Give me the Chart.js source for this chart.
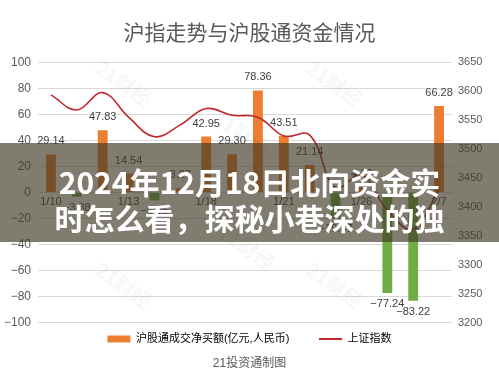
<!DOCTYPE html>
<html>
<head>
<meta charset="utf-8">
<script src="https://cdn.jsdelivr.net/npm/chart.js@4.4.1/dist/chart.umd.min.js"></script>
<style>
  html, body { margin: 0; padding: 0; background: #fff; }
  #wrap { position: relative; width: 499px; height: 386px; overflow: hidden; }
  #c { position: absolute; left: 0; top: 0; }
  .wm { position: absolute; color: rgba(0,0,0,0.035); font: 700 20px "Noto Sans CJK SC", sans-serif;
        transform: rotate(35deg); white-space: nowrap; pointer-events: none; }
  #band { position: absolute; left: 0; top: 143px; width: 499px; height: 99px; background: rgba(62,58,38,0.66); }
  .hl { position: absolute; left: 0; width: 499px; text-align: center; color: #fff; line-height: 38px;
        font: 700 30px "Noto Sans CJK SC", sans-serif; white-space: nowrap; }
</style>
</head>
<body>
<div id="wrap">
  <canvas id="c" width="499" height="386"></canvas>
  <div class="wm" style="left:92px;top:68px">21财经</div>
  <div class="wm" style="left:303px;top:68px">21财经</div>
  <div class="wm" style="left:210px;top:118px">21财经</div>
  <div class="wm" style="left:92px;top:270px">21财经</div>
  <div class="wm" style="left:303px;top:270px">21财经</div>
  <div class="wm" style="left:215px;top:232px">21财经</div>
  <div id="band"></div>
  <div class="hl" style="top:159px">2024年12月18日北向资金实</div>
  <div class="hl" style="top:195px">时怎么看，探秘小巷深处的独</div>
</div>
<script>
/* ── 数据 ── */
const DATES = ['1/10','1/11','1/12','1/13','1/14','1/17','1/18','1/19','1/20','1/21','1/24','1/25','1/26','1/27','1/28','2/7'];
const FLOW  = [29.14, -3.38, 47.83, 14.54, -6.05, 3.27, 42.95, 29.30, 78.36, 43.51, 21.14, -19.87, 4.18, -77.24, -83.22, 66.28]; // 亿元
const SSE   = [3593.52, 3567.44, 3597.43, 3555.06, 3521.26, 3541.67, 3569.91, 3558.18, 3555.06, 3522.57, 3524.09, 3433.06, 3455.67, 3394.25, 3361.44, 3429.58];
const LABEL_EVERY = 3;
const LEFT_TICKS  = [-100, 100, 20];
const RIGHT_TICKS = [3200, 3650, 50];
const TITLE  = '沪指走势与沪股通资金情况';
const LEGEND = ['沪股通成交净买额(亿元,人民币)', '上证指数'];
const FOOTER = '21投资通制图';

const ORANGE = '#ED7D31', GREEN = '#70AD47', RED = '#C0282D';
const GRAY = '#595959';
const FONT = '"Liberation Sans", "Noto Sans CJK SC", sans-serif';
const minus = v => String(v).replace('-', '\u2212');

/* ── 柱顶数值标签 ── */
const barLabels = {
  id: 'barLabels',
  afterDatasetsDraw(chart) {
    const ctx = chart.ctx;
    const meta = chart.getDatasetMeta(0);
    ctx.save();
    ctx.font = '11px ' + FONT;
    ctx.fillStyle = '#404040';
    ctx.textAlign = 'center';
    ctx.textBaseline = 'middle';
    meta.data.forEach((bar, i) => {
      const v = FLOW[i];
      ctx.fillText(minus(v.toFixed(2)), bar.x, v >= 0 ? bar.y - 13 : bar.y + 11);
    });
    ctx.restore();
  }
};

new Chart(document.getElementById('c'), {
  type: 'bar',
  data: {
    labels: DATES,
    datasets: [
      {
        label: LEGEND[0],
        data: FLOW,
        backgroundColor: FLOW.map(v => v >= 0 ? ORANGE : GREEN),
        yAxisID: 'y',
        barPercentage: 0.38,
        categoryPercentage: 1,
        order: 2,
      },
      {
        label: LEGEND[1],
        type: 'line',
        data: SSE,
        yAxisID: 'y1',
        borderColor: RED,
        backgroundColor: RED,
        borderWidth: 1.6,
        pointRadius: 0,
        tension: 0.4,
        order: 1,
      },
    ],
  },
  options: {
    responsive: false,
    animation: false,
    layout: { padding: 0 },
    plugins: {
      title: {
        display: true, text: TITLE, color: GRAY,
        font: { size: 21, weight: 'normal', family: FONT },
        padding: { top: 22, bottom: 15 },
      },
      subtitle: {
        display: true, text: FOOTER, position: 'bottom', color: GRAY,
        font: { size: 12, family: FONT },
        padding: { top: 2, bottom: 15 },
      },
      legend: {
        position: 'bottom',
        labels: {
          usePointStyle: true, pointStyleWidth: 23, boxHeight: 7, padding: 11,
          color: GRAY, font: { size: 11, family: FONT },
          generateLabels: () => [
            { text: LEGEND[0] + '\u2003\u2002\u2009', fillStyle: ORANGE, strokeStyle: ORANGE, lineWidth: 0, pointStyle: 'rect', datasetIndex: 0, hidden: false },
            { text: LEGEND[1], fillStyle: RED, strokeStyle: RED, lineWidth: 2, pointStyle: 'line', datasetIndex: 1, hidden: false },
          ],
        },
      },
      tooltip: { enabled: false },
    },
    scales: {
      x: {
        position: { y: 0 },
        grid: { display: false, drawTicks: false },
        border: { display: false },
        ticks: {
          color: '#404040', font: { size: 11, family: FONT }, padding: 3, maxRotation: 0, autoSkip: false,
          callback: (v, i) => i % LABEL_EVERY === 0 ? DATES[i] : '',
        },
      },
      y: {
        position: 'left',
        min: LEFT_TICKS[0], max: LEFT_TICKS[1],
        grid: { color: '#D9D9D9', drawTicks: false },
        border: { display: false },
        ticks: { stepSize: LEFT_TICKS[2], color: GRAY, font: { size: 12, family: FONT }, padding: 7, callback: v => minus(v) },
        afterFit: s => { s.width = 38; },
      },
      y1: {
        position: 'right',
        min: RIGHT_TICKS[0], max: RIGHT_TICKS[1],
        grid: { display: false, drawTicks: false },
        border: { display: false },
        ticks: { stepSize: RIGHT_TICKS[2], color: GRAY, font: { size: 11, family: FONT }, padding: 6, callback: v => String(v) },
        afterFit: s => { s.width = 47; },
      },
    },
  },
  plugins: [barLabels],
});
</script>
</body>
</html>
